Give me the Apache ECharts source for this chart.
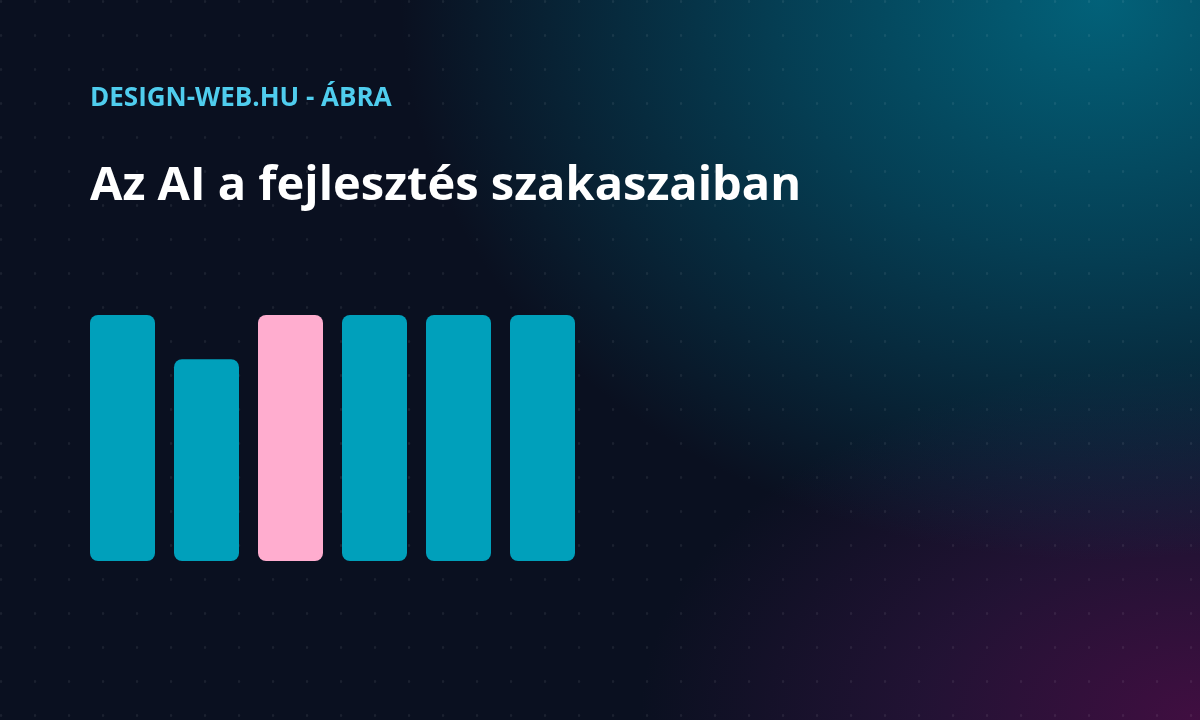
<!DOCTYPE html>
<html>
<head>
<meta charset="utf-8">
<script src="https://cdn.jsdelivr.net/npm/echarts@6/dist/echarts.min.js"></script>
<style>
  html, body { margin: 0; padding: 0; width: 1200px; height: 720px; overflow: hidden; }
  body {
    background-color: #0a1020;
    background-image:
      radial-gradient(circle at 1px 1.5px, rgba(255,255,255,0.07) 0, rgba(255,255,255,0.07) 1px, transparent 1.6px),
      radial-gradient(ellipse 700px 560px at 1100px 0px, rgba(2,100,124,0.97) 0%, rgba(2,88,112,0.65) 45%, rgba(2,70,95,0) 100%),
      radial-gradient(ellipse 560px 360px at 1200px 720px, rgba(66,14,66,0.97) 0%, rgba(50,20,65,0.6) 50%, rgba(40,20,60,0) 100%);
    background-size: 34px 34px, 100% 100%, 100% 100%;
    background-repeat: repeat, no-repeat, no-repeat;
  }
  #chart { width: 1200px; height: 720px; }
</style>
</head>
<body>
<div id="chart"></div>
<script>
const kicker = 'DESIGN-WEB.HU - ÁBRA';
const headline = 'Az AI a fejlesztés szakaszaiban';
const categories = ['1', '2', '3', '4', '5', '6'];
const values = [100, 82, 100, 100, 100, 100];
const highlightIndex = 2;

const chart = echarts.init(document.getElementById('chart'), null, { renderer: 'canvas' });
chart.setOption({
  backgroundColor: 'transparent',
  animation: false,
  title: [
    {
      text: kicker, left: 90, top: 86, padding: 0,
      textStyle: { color: '#4fcdee', fontFamily: 'Open Sans', fontWeight: 'bold', fontSize: 26 }
    },
    {
      text: headline, left: 90, top: 163, padding: 0,
      textStyle: { color: '#ffffff', fontFamily: 'Open Sans', fontWeight: 'bold', fontSize: 47 }
    }
  ],
  grid: { left: 80.5, width: 504, top: 315, bottom: 159, containLabel: false },
  xAxis: { type: 'category', data: categories, show: false },
  yAxis: { type: 'value', min: 0, max: 100, show: false },
  series: [{
    type: 'bar',
    barWidth: 65,
    data: values.map((v, i) => ({
      value: v,
      itemStyle: { color: i === highlightIndex ? '#ffadcf' : '#00a0bb' }
    })),
    itemStyle: { borderRadius: 8 }
  }]
});
</script>
</body>
</html>
